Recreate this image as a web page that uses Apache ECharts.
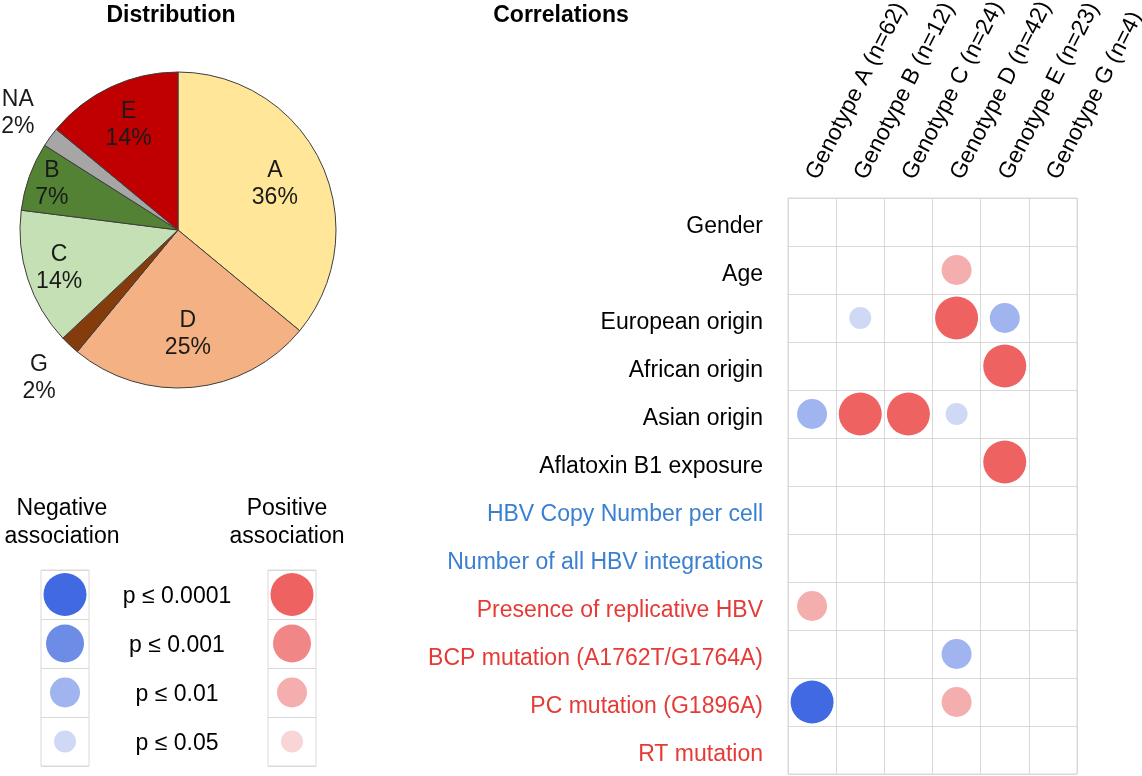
<!DOCTYPE html>
<html>
<head>
<meta charset="utf-8">
<script src="https://cdn.jsdelivr.net/npm/echarts@6/dist/echarts.min.js"></script>
<style>html,body{margin:0;padding:0;background:#fff}#chart{width:1142px;height:776px}</style>
</head>
<body>
<div id="chart"></div>
<script>
// ---------- DATA ----------
const pieLabels = ['A', 'D', 'G', 'C', 'B', 'NA', 'E'];
const pieValues = [36, 25, 2, 14, 7, 2, 14];

const genotypes = ['Genotype A (n=62)', 'Genotype B (n=12)', 'Genotype C (n=24)', 'Genotype D (n=42)', 'Genotype E (n=23)', 'Genotype G (n=4)'];
const variables = ['Gender', 'Age', 'European origin', 'African origin', 'Asian origin', 'Aflatoxin B1 exposure',
  'HBV Copy Number per cell', 'Number of all HBV integrations', 'Presence of replicative HBV',
  'BCP mutation (A1762T/G1764A)', 'PC mutation (G1896A)', 'RT mutation'];
const variableGroups = ['host', 'host', 'host', 'host', 'host', 'host', 'load', 'load', 'viral', 'viral', 'viral', 'viral'];

// signed significance level per variable x genotype: +k positive, -k negative association
// k: 1 = p<=0.0001, 2 = p<=0.001, 3 = p<=0.01, 4 = p<=0.05, 0 = none
const associations = [
  [0, 0, 0, 0, 0, 0],
  [0, 0, 0, 3, 0, 0],
  [0, -4, 0, 1, -3, 0],
  [0, 0, 0, 0, 1, 0],
  [-3, 1, 1, -4, 0, 0],
  [0, 0, 0, 0, 1, 0],
  [0, 0, 0, 0, 0, 0],
  [0, 0, 0, 0, 0, 0],
  [3, 0, 0, 0, 0, 0],
  [0, 0, 0, -3, 0, 0],
  [-1, 0, 0, 3, 0, 0],
  [0, 0, 0, 0, 0, 0]
];

const pLevels = ['p ≤ 0.0001', 'p ≤ 0.001', 'p ≤ 0.01', 'p ≤ 0.05'];
const legendLevels = [1, 2, 3, 4];

// ---------- STYLE ----------
const FONT = '"Liberation Sans", Arial, Helvetica, sans-serif';
const pieColors = { A: '#FFE699', D: '#F4B183', G: '#843C0C', C: '#C5E0B4', B: '#548235', NA: '#A6A6A6', E: '#C00000' };
// distance of each slice label from the pie centre (px)
const labelDist = { A: 104, D: 102, G: 200, C: 122, B: 131, NA: 195, E: 113 };
const negColors = ['#4169E1', '#6D8CE6', '#A0B4EF', '#CFD9F6'];
const posColors = ['#EE6262', '#F18686', '#F4AEAE', '#F9D6D6'];
const levelSizes = [43, 38, 30, 22];
const groupColors = { host: '#000000', load: '#3A7FD2', viral: '#E63A36' };
const gridLine = '#D9D9D9';

function colorOf(v) { return v > 0 ? posColors[v - 1] : negColors[-v - 1]; }
function sizeOf(v) { return levelSizes[Math.abs(v) - 1]; }

const chart = echarts.init(document.getElementById('chart'), null, { renderer: 'canvas' });

const PIE_CENTER = [178, 230];
const PIE_R = 158;

function labelSeries(name) {
  const d = labelDist[name];
  return {
    type: 'pie', center: PIE_CENTER, radius: [d - 20, d + 20], startAngle: 90, clockwise: true,
    silent: true, z: 5, avoidLabelOverlap: false,
    emphasis: { disabled: true },
    itemStyle: { color: 'rgba(0,0,0,0)', borderWidth: 0 },
    labelLine: { show: false },
    data: pieLabels.map((n, i) => ({
      name: n, value: pieValues[i],
      label: {
        show: n === name, position: 'inside',
        formatter: '{b}\n{c}%', fontSize: 23, lineHeight: 27, color: '#1a1a1a', fontFamily: FONT
      }
    }))
  };
}

const mainData = [];
associations.forEach((row, r) => row.forEach((v, c) => { if (v !== 0) mainData.push([c, r, v]); }));

const rowRich = {};
Object.keys(groupColors).forEach(g => {
  rowRich[g] = { color: groupColors[g], fontSize: 23, fontFamily: FONT, padding: [10, 0, 0, 0] };
});

const option = {
  animation: false,
  textStyle: { fontFamily: FONT },
  graphic: [
    { type: 'text', x: 171, y: 16, style: { text: 'Distribution', font: 'bold 23px ' + FONT, fill: '#000', textAlign: 'center', textVerticalAlign: 'middle', align: 'center', verticalAlign: 'middle' } },
    { type: 'text', x: 561, y: 16, style: { text: 'Correlations', font: 'bold 23px ' + FONT, fill: '#000', textAlign: 'center', textVerticalAlign: 'middle', align: 'center', verticalAlign: 'middle' } },
    { type: 'text', x: 62, y: 523, style: { text: 'Negative\nassociation', font: '23px ' + FONT, lineHeight: 28, fill: '#000', textAlign: 'center', textVerticalAlign: 'middle', align: 'center', verticalAlign: 'middle' } },
    { type: 'text', x: 287, y: 523, style: { text: 'Positive\nassociation', font: '23px ' + FONT, lineHeight: 28, fill: '#000', textAlign: 'center', textVerticalAlign: 'middle', align: 'center', verticalAlign: 'middle' } }
  ],
  grid: [
    { left: 788, top: 198, width: 289, height: 576, show: true, borderColor: gridLine, borderWidth: 1, backgroundColor: 'transparent', containLabel: false, outerBoundsMode: 'none' },
    { left: 41, top: 570, width: 48, height: 196, show: true, borderColor: gridLine, borderWidth: 1, backgroundColor: 'transparent', containLabel: false, outerBoundsMode: 'none' },
    { left: 268, top: 570, width: 48, height: 196, show: true, borderColor: gridLine, borderWidth: 1, backgroundColor: 'transparent', containLabel: false, outerBoundsMode: 'none' }
  ],
  xAxis: [
    {
      gridIndex: 0, type: 'category', data: genotypes, position: 'top', boundaryGap: true,
      axisLine: { show: false }, axisTick: { show: false },
      splitLine: { show: true, lineStyle: { color: gridLine, width: 1 } },
      axisLabel: { interval: 0, rotate: -63, margin: 20, fontSize: 23, color: '#000', fontFamily: FONT, hideOverlap: false }
    },
    { gridIndex: 1, type: 'category', data: ['neg'], axisLine: { show: false }, axisTick: { show: false }, axisLabel: { show: false } },
    { gridIndex: 2, type: 'category', data: ['pos'], axisLine: { show: false }, axisTick: { show: false }, axisLabel: { show: false } }
  ],
  yAxis: [
    {
      gridIndex: 0, type: 'category', data: variables, inverse: true, boundaryGap: true,
      axisLine: { show: false }, axisTick: { show: false },
      splitLine: { show: true, lineStyle: { color: gridLine, width: 1 } },
      axisLabel: {
        interval: 0, margin: 25, fontSize: 23, fontFamily: FONT,
        formatter: (val, idx) => '{' + variableGroups[idx] + '|' + val + '}',
        rich: rowRich
      }
    },
    {
      gridIndex: 1, type: 'category', data: pLevels, inverse: true,
      axisLine: { show: false }, axisTick: { show: false }, axisLabel: { show: false },
      splitLine: { show: true, lineStyle: { color: gridLine } }
    },
    {
      gridIndex: 2, type: 'category', data: pLevels, inverse: true,
      axisLine: { show: false }, axisTick: { show: false },
      axisLabel: {
        interval: 0, margin: 91, align: 'center', fontSize: 23, color: '#000', fontFamily: FONT,
        formatter: (val) => '{p|' + val + '}',
        rich: { p: { color: '#000', fontSize: 23, fontFamily: FONT, padding: [4, 0, 0, 0] } }
      },
      splitLine: { show: true, lineStyle: { color: gridLine } }
    }
  ],
  series: [
    {
      type: 'pie', center: PIE_CENTER, radius: PIE_R, startAngle: 90, clockwise: true, silent: true,
      emphasis: { disabled: true }, label: { show: false }, labelLine: { show: false },
      itemStyle: { borderColor: '#3d3d3d', borderWidth: 1 },
      data: pieLabels.map((n, i) => ({ name: n, value: pieValues[i], itemStyle: { color: pieColors[n] } }))
    },
    ...pieLabels.map(labelSeries),
    {
      type: 'scatter', xAxisIndex: 0, yAxisIndex: 0, silent: true,
      data: mainData,
      symbolSize: (d) => sizeOf(d[2]),
      itemStyle: { color: (p) => colorOf(p.data[2]), opacity: 1 }
    },
    {
      type: 'scatter', xAxisIndex: 1, yAxisIndex: 1, silent: true,
      data: legendLevels.map((k, i) => [0, i, -k]),
      symbolSize: (d) => sizeOf(d[2]),
      itemStyle: { color: (p) => colorOf(p.data[2]), opacity: 1 }
    },
    {
      type: 'scatter', xAxisIndex: 2, yAxisIndex: 2, silent: true,
      data: legendLevels.map((k, i) => [0, i, k]),
      symbolSize: (d) => sizeOf(d[2]),
      itemStyle: { color: (p) => colorOf(p.data[2]), opacity: 1 }
    }
  ]
};
chart.setOption(option);
</script>
</body>
</html>
